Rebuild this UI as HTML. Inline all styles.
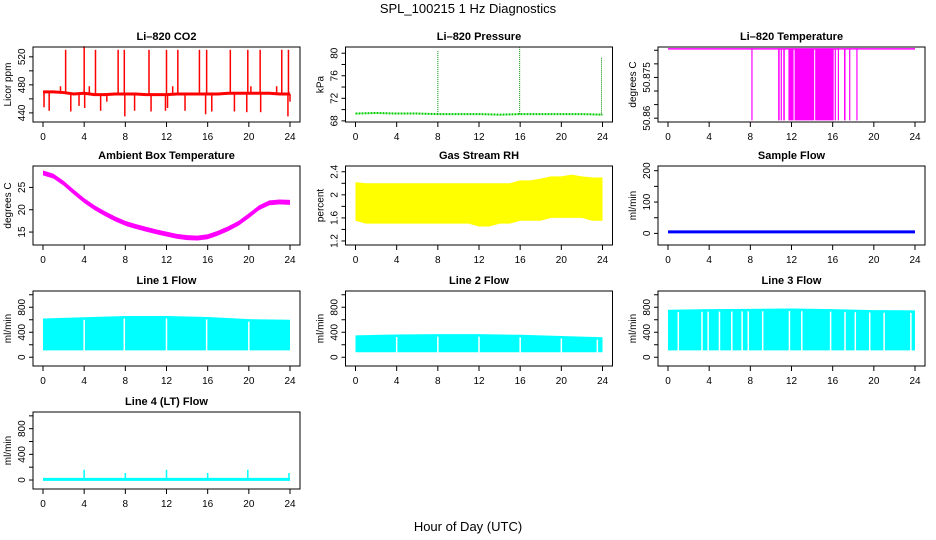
<!DOCTYPE html>
<html><head><meta charset="utf-8"><style>
body{margin:0;background:#fff;}
svg{display:block;font-family:"Liberation Sans",Arial,sans-serif;}
</style></head><body>
<svg id="c" width="936" height="540" viewBox="0 0 936 540" xmlns="http://www.w3.org/2000/svg">
<text x="468" y="13" text-anchor="middle" font-size="13">SPL_100215  1 Hz Diagnostics</text>
<text x="468" y="531" text-anchor="middle" font-size="13">Hour of Day (UTC)</text>
</svg>
<script>
// ---- data arrays ----
const hourTicks = [0,4,8,12,16,20,24];
const co2Hours = [0,1,2,3,4,5,6,7,8,9,10,11,12,13,14,15,16,17,18,19,20,21,22,23,24];
const co2Base = [470,470,469,467,468,466,466,467,467,467,466,466,466,467,467,467,467,467,468,468,468,468,468,467,467];
const co2SpikeHours = [0.1,0.6,1.7,2.2,2.7,3.5,4.0,4.05,4.5,5.1,5.6,6.2,7.3,7.9,7.95,8.9,10.3,10.5,11.9,12.0,12.1,12.6,13.1,13.8,15.2,15.8,15.9,16.4,18.2,18.6,19.8,19.9,20.2,21.1,21.15,22.7,23.2,23.8,23.85,24.0];
const co2SpikeValues = [448,443,478,530,442,450,535,447,478,530,443,456,530,530,435,443,530,442,443,530,447,478,530,443,530,438,530,442,530,442,441,530,478,530,441,478,530,435,530,456];
const presHours = [0,2,4,6,8,10,12,14,16,18,20,22,24];
const presBase = [69.3,69.4,69.3,69.3,69.2,69.2,69.2,69.1,69.2,69.2,69.2,69.2,69.1];
const presSpikeHours = [8.0,15.95,23.9];
const presSpikeValues = [80.5,81.0,79.4];
const tempTop = 50.8855;
const tempLow = 50.8592;
const tempDropStarts = [8.1,10.7,10.95,11.2,11.7,12.3,14.3,16.2,16.5,17.1,17.6,18.3];
const tempDropEnds = [8.12,10.85,11.05,11.35,12.2,14.2,16.1,16.3,16.55,17.25,17.65,18.32];
const ambHours = [0,1,2,3,4,5,6,7,8,9,10,11,12,13,14,15,16,17,18,19,20,21,22,23,24];
const ambValues = [28.3,27.6,26.0,24.0,22.1,20.5,19.2,18.0,17.0,16.3,15.7,15.1,14.6,14.1,13.8,13.7,14.0,14.8,15.8,17.0,18.7,20.5,21.6,21.8,21.7];
const rhHours = [0,1,2,3,4,5,6,7,8,9,10,11,12,13,14,15,16,17,18,19,20,21,22,23,24];
const rhHigh = [2.22,2.2,2.2,2.2,2.2,2.2,2.2,2.2,2.2,2.2,2.2,2.2,2.2,2.2,2.2,2.2,2.25,2.25,2.28,2.32,2.32,2.35,2.32,2.3,2.3];
const rhLow = [1.55,1.5,1.5,1.5,1.5,1.5,1.5,1.5,1.5,1.5,1.5,1.5,1.45,1.45,1.5,1.5,1.55,1.55,1.55,1.6,1.6,1.6,1.6,1.55,1.55];
const sampleValue = 5;
const flowHours = [0,4,8,12,16,20,24];
const line1High = [620,640,660,660,645,610,600];
const line1Low = [110,110,110,110,110,110,110];
const line1Gaps = [4.0,7.9,12.0,15.9,20.0];
const line2High = [350,365,370,370,360,340,320];
const line2Low = [80,80,80,80,80,80,80];
const line2Gaps = [4.0,8.0,12.0,16.0,20.0,23.5];
const line3High = [760,770,775,780,770,755,750];
const line3Low = [110,110,110,110,110,110,110];
const line3Gaps = [1.0,3.3,3.9,5.0,6.2,7.2,7.8,9.2,11.8,13.0,15.8,17.2,18.2,19.6,21.0,23.6];
const line4Base = 10;
const line4SpikeHours = [4.0,8.0,12.0,16.0,19.9,23.9];
const line4SpikeValues = [160,110,160,110,160,110];

const NS="http://www.w3.org/2000/svg";
const svg=document.getElementById('c');
const colLeft=[33,345.5,658], W=267;
const rowTop=[47,166,291,412], rowH=[75,79,75,77];
function mk(tag,attrs,parent){const e=document.createElementNS(NS,tag);for(const k in attrs)e.setAttribute(k,attrs[k]);(parent||svg).appendChild(e);return e;}

function panel(name,col,row,title,ylab,ymin,ymax,ticks,labels){
  const L=colLeft[col],T=rowTop[row],H=rowH[row];
  const g=mk('g',{});
  
  
  const xs=h=>L+10+h/24*(W-20);
  const ys=v=>T+H-(v-ymin)/(ymax-ymin)*H;
  const t=mk('text',{x:L+W/2,y:T-7,'text-anchor':'middle','font-size':11,'font-weight':'bold'},g);
  t.textContent=title;
  
  
  const yl=mk('text',{transform:`translate(${L-22},${T+H/2}) rotate(-90)`,'text-anchor':'middle','font-size':10},g);
  yl.textContent=ylab;
  
  
  ticks.forEach(v=>{const y=ys(v);mk('line',{x1:L-4,x2:L,y1:y,y2:y,stroke:'#000'},g);});
  labels.forEach(v=>{const y=ys(v);const s=mk('text',{transform:`translate(${L-8},${y}) rotate(-90)`,'text-anchor':'middle','font-size':10},g);s.textContent=String(v);
    
    });
  hourTicks.forEach(h=>{const x=xs(h);mk('line',{x1:x,x2:x,y1:T+H,y2:T+H+5,stroke:'#000'},g);
    const s=mk('text',{x:x,y:T+H+18,'text-anchor':'middle','font-size':10},g);s.textContent=String(h);
    
    });
  const plot=mk('g',{},g);
  
  
  const box=mk('rect',{x:L,y:T,width:W,height:H,fill:'none',stroke:'#000'},g);
  
  
  return {xs,ys,plot,L,T,H};
}
function pl(p,xsArr,ysArr,color,w,extra){
  const pts=xsArr.map((h,i)=>p.xs(h)+','+p.ys(ysArr[i])).join(' ');
  return mk('polyline',Object.assign({points:pts,fill:'none',stroke:color,'stroke-width':w},extra||{}),p.plot);
}
function band(p,hrs,hi,lo,color){
  const top=hrs.map((h,i)=>p.xs(h)+','+p.ys(hi[i]));
  const bot=hrs.map((h,i)=>p.xs(h)+','+p.ys(lo[i])).reverse();
  return mk('polygon',{points:top.concat(bot).join(' '),fill:color},p.plot);
}
function vline(p,h,v0,v1,color,w,extra){
  return mk('line',Object.assign({x1:p.xs(h),x2:p.xs(h),y1:p.ys(v0),y2:p.ys(v1),stroke:color,'stroke-width':w},extra||{}),p.plot);
}
function interp(hrs,vals,h){for(let i=0;i<hrs.length-1;i++){if(h<=hrs[i+1]){const f=(h-hrs[i])/(hrs[i+1]-hrs[i]);return vals[i]+f*(vals[i+1]-vals[i]);}}return vals[vals.length-1];}

// CO2
let p=panel('co2',0,0,'Li\u2013820 CO2','Licor ppm',427,534,[440,460,480,500,520],[440,480,520]);
pl(p,co2Hours,co2Base,'#f00',3);
co2SpikeHours.forEach((h,i)=>{const l=vline(p,h,interp(co2Hours,co2Base,h),co2SpikeValues[i],'#f00',1.5);
  
  });

// Pressure
p=panel('pressure',1,0,'Li\u2013820 Pressure','kPa',67.8,81.1,[68,70,72,74,76,78,80],[68,72,76,80]);
pl(p,presHours,presBase,'#0c0',2,{'stroke-dasharray':'2 1'});
presSpikeHours.forEach((h,i)=>{const l=vline(p,h,interp(presHours,presBase,h),presSpikeValues[i],'#080',1,{'stroke-dasharray':'1 1'});
  
  });

// Temperature
p=panel('li820-temperature',2,0,'Li\u2013820 Temperature','degrees C',50.8586,50.8862,[50.86,50.865,50.87,50.875,50.88,50.885],['50.860','50.875'].map(Number));
pl(p,[0,24],[tempTop,tempTop],'#f0f',1.5);
tempDropStarts.forEach((h,i)=>{const x0=p.xs(h),x1=p.xs(tempDropEnds[i]);
  const r=mk('rect',{x:x0,y:p.ys(tempTop),width:Math.max(1.2,x1-x0),height:p.ys(tempLow)-p.ys(tempTop),fill:'#f0f'},p.plot);
  
  });

// Ambient
p=panel('ambient-temperature',0,1,'Ambient Box Temperature','degrees C',12.1,29.8,[15,20,25],[15,20,25]);
band(p,ambHours,ambValues.map(v=>v+0.5),ambValues.map(v=>v-0.6),'#f0f');

// Gas RH
p=panel('gas-rh',1,1,'Gas Stream RH','percent',1.13,2.5,[1.2,1.4,1.6,1.8,2.0,2.2,2.4],[1.2,1.6,2.0,2.4]);
band(p,rhHours,rhHigh,rhLow,'#ff0');

// Sample flow
p=panel('sample-flow',2,1,'Sample Flow','ml/min',-37,215,[0,50,100,150,200],[0,100,200]);
pl(p,[0,24],[sampleValue,sampleValue],'#00f',3);

// Line flows
function flowPanel(name,col,row,title,hi,lo,gaps){
  const q=panel(name,col,row,title,'ml/min',-140,1060,[0,200,400,600,800,1000],[0,400,800]);
  band(q,flowHours,hi,lo,'#0ff');
  gaps.forEach(h=>{const l=vline(q,h,interp(flowHours,lo,h)-5,interp(flowHours,hi,h)-40,'#fff',1.5);
    
    });
  return q;
}
flowPanel('line1-flow',0,2,'Line 1 Flow',line1High,line1Low,line1Gaps);
flowPanel('line2-flow',1,2,'Line 2 Flow',line2High,line2Low,line2Gaps);
flowPanel('line3-flow',2,2,'Line 3 Flow',line3High,line3Low,line3Gaps);

// Line 4
p=panel('line4-flow',0,3,'Line 4 (LT) Flow','ml/min',-140,1060,[0,200,400,600,800,1000],[0,400,800]);
pl(p,[0,24],[line4Base,line4Base],'#0ff',3);
line4SpikeHours.forEach((h,i)=>{const l=vline(p,h,line4Base,line4SpikeValues[i],'#0ff',1.5);
  
  });
</script>
</body></html>
